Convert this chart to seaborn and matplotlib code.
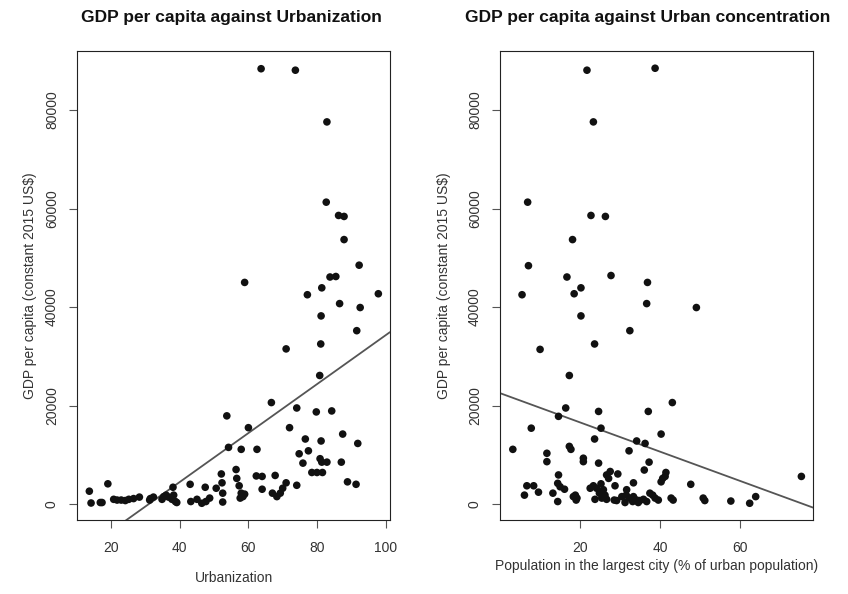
import matplotlib
matplotlib.use("Agg")
import matplotlib.pyplot as plt
import seaborn as sns
import pandas as pd

# === DATA ===
# left panel: urbanization (% of population) vs GDP per capita
urban_pct = [63.7, 73.7, 82.9, 82.7, 86.3, 87.9, 87.9, 92.3, 58.9, 83.8, 85.5, 77.2, 81.4, 97.9,
             86.6, 92.6, 81.2, 91.6, 71.0, 81.1, 80.8, 66.7, 74.1, 79.8, 84.3, 53.7, 60.0, 72.0,
             87.5, 76.6, 81.2, 91.9, 54.2, 57.9, 62.5, 77.5, 74.8, 80.9, 81.4, 82.9, 87.1, 75.9,
             56.4, 78.5, 80.0, 81.6, 52.1, 67.8, 62.3, 64.0, 56.6, 88.9, 52.3, 71.0, 43.0, 91.4,
             19.0, 74.1, 57.3, 38.0, 47.4, 50.6, 70.0, 64.0, 13.6, 52.5, 57.9, 67.0, 69.3, 58.9,
             36.0, 38.2, 35.3, 58.4, 68.3, 28.2, 32.3, 36.7, 48.7, 57.6, 26.5, 31.4, 20.7, 25.1,
             34.8, 37.7, 45.0, 21.7, 22.9, 31.2, 24.1, 38.7, 43.2, 47.6, 52.5, 16.8, 17.3, 39.1,
             14.1, 46.4]
urban_gdp = [88400, 88100, 77600, 61300, 58600, 58400, 53700, 48500, 45000, 46100, 46200, 42500,
             43900, 42700, 40700, 39900, 38200, 35200, 31500, 32500, 26100, 20600, 19500, 18700,
             18900, 17900, 15500, 15500, 14200, 13200, 12800, 12300, 11500, 11100, 11100, 10800,
             10200, 9200, 8500, 8500, 8500, 8300, 7000, 6400, 6400, 6400, 6100, 5800, 5700, 5600,
             5200, 4500, 4300, 4300, 4000, 4000, 4100, 3800, 3700, 3400, 3400, 3200, 3200, 3000,
             2600, 2200, 2200, 2200, 2200, 2000, 1800, 1800, 1500, 1500, 1500, 1400, 1400, 1400,
             1200, 1200, 1100, 1100, 950, 950, 950, 950, 950, 800, 800, 800, 700, 500, 500, 500,
             400, 300, 300, 300, 200, 150]

# right panel: population in largest city (% of urban population) vs GDP per capita
conc_pct = [21.7, 38.7, 23.3, 6.9, 22.7, 26.3, 18.1, 7.1, 16.7, 27.7, 36.8, 5.5, 18.5, 20.2, 36.6,
            49.0, 20.2, 32.4, 10.0, 23.6, 17.3, 43.0, 16.4, 24.6, 37.0, 14.6, 7.8, 25.2, 40.2,
            23.6, 34.1, 36.2, 3.2, 17.7, 17.3, 32.2, 11.7, 20.8, 11.7, 20.8, 24.6, 37.2, 36.0,
            27.5, 41.4, 29.4, 26.6, 14.6, 41.2, 75.2, 27.1, 40.6, 40.2, 33.3, 14.4, 47.6, 6.7,
            8.4, 28.7, 15.0, 16.1, 9.6, 13.2, 6.1, 18.8, 63.8, 18.3, 19.2, 42.7, 50.7, 19.0, 43.2,
            51.1, 57.6, 14.4, 62.3, 22.5, 23.3, 24.1, 25.2, 25.8, 24.8, 26.2, 25.4, 26.6, 23.7,
            28.5, 29.1, 31.6, 31.5, 32.3, 33.3, 34.1, 34.9, 35.8, 36.6, 37.4, 38.1, 38.7, 39.5,
            31.2, 33.1, 34.5, 30.4]
conc_gdp = [88100, 88500, 77600, 61300, 58600, 58400, 53700, 48400, 46100, 46400, 45000, 42500,
            42700, 43900, 40700, 39900, 38200, 35200, 31400, 32500, 26100, 20600, 19500, 18800,
            18800, 17800, 15400, 15400, 14200, 13200, 12800, 12300, 11100, 11100, 11700, 10800,
            10300, 9300, 8600, 8600, 8300, 8500, 6900, 6600, 6400, 6100, 5900, 5900, 5600, 5600,
            5200, 5200, 4500, 4300, 4200, 4000, 3700, 3700, 3700, 3500, 3000, 2400, 2200, 1800,
            1800, 1500, 1500, 1200, 1200, 1200, 800, 800, 700, 600, 500, 150, 3200, 3700, 3200,
            4100, 2900, 2200, 1800, 1200, 950, 950, 800, 700, 2900, 1800, 1200, 1500, 800, 700,
            950, 500, 2200, 1800, 1200, 800, 300, 500, 300, 1500]

df_urban = pd.DataFrame({"x": urban_pct, "gdp": urban_gdp})
df_conc = pd.DataFrame({"x": conc_pct, "gdp": conc_gdp})

# === STYLE ===
sns.set_theme(style="white")
plt.rcParams["font.family"] = ["Liberation Sans", "DejaVu Sans"]
TEXT_COL = "#333333"
TICK_COL = "#555555"

fig = plt.figure(figsize=(8.48, 5.94), dpi=100)
ax1 = fig.add_axes([77 / 848, 74 / 594, 313 / 848, 469 / 594])
ax2 = fig.add_axes([500 / 848, 74 / 594, 313 / 848, 469 / 594])

panels = [
    (ax1, df_urban, (10.0, 101.3), [20, 40, 60, 80, 100], "Urbanization", 12, 6),
    (ax2, df_conc, (0.0, 78.1), [20, 40, 60], "Population in the largest city (% of urban population)", 3, 12),
]

for ax, df, xlim, xticks, xlabel, xpad, ypad in panels:
    ax.set_xlim(*xlim)
    ax.set_ylim(-3250, 92000)
    sns.scatterplot(data=df, x="x", y="gdp", ax=ax, color="#111111", s=30,
                    edgecolor="none", linewidth=0, zorder=3)
    # least squares line across the whole panel (like abline in R)
    sns.regplot(data=df, x="x", y="gdp", ax=ax, scatter=False, ci=None, truncate=False,
                line_kws={"color": "#555555", "lw": 1.3, "zorder": 2})
    ax.set_xlim(*xlim)
    ax.set_ylim(-3250, 92000)

    ax.set_xticks(xticks)
    ax.set_yticks([0, 20000, 40000, 60000, 80000])
    ax.set_yticklabels(["0", "20000", "40000", "60000", "80000"], rotation=90, va="center")
    ax.tick_params(axis="both", direction="out", length=6, width=0.8, color=TICK_COL,
                   labelsize=10, labelcolor=TEXT_COL, bottom=True, left=True)
    ax.tick_params(axis="x", pad=9)
    ax.tick_params(axis="y", pad=7)
    ax.set_xlabel(xlabel, fontsize=10, color=TEXT_COL, labelpad=xpad)
    ax.set_ylabel("GDP per capita (constant 2015 US$)", fontsize=10, color=TEXT_COL, labelpad=ypad)
    for sp in ax.spines.values():
        sp.set_color("#222222")
        sp.set_linewidth(0.8)

# titles
fig.text(231.5 / 848, 1 - 22 / 594, "GDP per capita against Urbanization",
         ha="center", va="baseline", fontsize=12.5, fontweight="bold", color="#111111")
fig.text(647.5 / 848, 1 - 22 / 594, "GDP per capita against Urban concentration",
         ha="center", va="baseline", fontsize=12.5, fontweight="bold", color="#111111")

fig.savefig("out.png", dpi=100, facecolor="white")
